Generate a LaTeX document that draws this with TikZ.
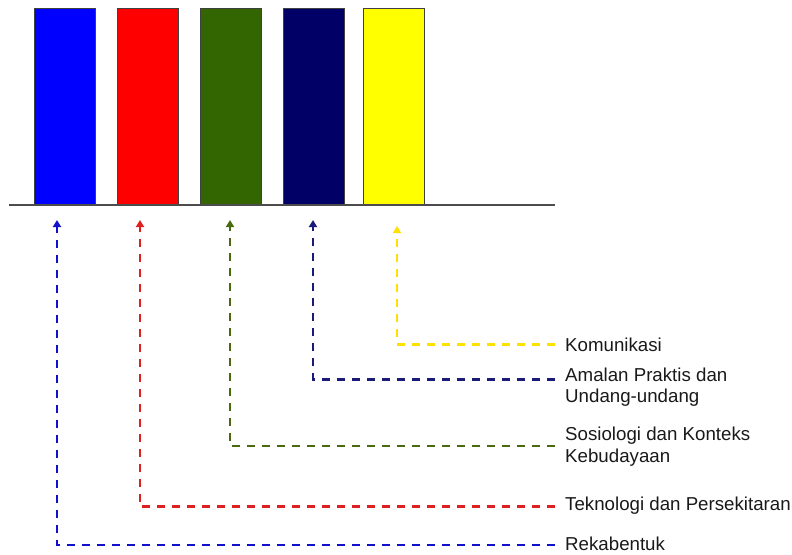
\documentclass[tikz,border=0pt]{standalone}
\usepackage{fontspec}
\setmainfont{Liberation Sans}
\usetikzlibrary{arrows.meta}
\definecolor{cblue}{HTML}{0000FF}
\definecolor{cred}{HTML}{FF0000}
\definecolor{cgreen}{HTML}{336600}
\definecolor{cnavy}{HTML}{000066}
\definecolor{cyellow}{HTML}{FFFF00}
\definecolor{lblue}{HTML}{1111CC}
\definecolor{lred}{HTML}{DD2020}
\definecolor{lgreen}{HTML}{4A6A12}
\definecolor{lnavy}{HTML}{1A1A77}
\definecolor{lyellow}{HTML}{FFE000}
\tikzset{
  bar/.style={draw=black!75, line width=0.8pt, minimum width=61pt, minimum height=196pt, inner sep=0pt, anchor=south west},
  conn/.style={line width=2.4pt, dash pattern=on 8pt off 7pt, -{Triangle[width=8pt,length=7pt]}},
  lab/.style={anchor=base west, inner sep=0pt, font=\fontsize{18.7}{22}\selectfont, text=black!90, align=left}
}
\begin{document}
\begin{tikzpicture}[x=1pt,y=-1pt]
\useasboundingbox (0,0) rectangle (792,554);
% bars
\node[bar, fill=cblue] (b1) at (34,205) {};
\node[bar, fill=cred] (b2) at (117,205) {};
\node[bar, fill=cgreen] (b3) at (200,205) {};
\node[bar, fill=cnavy] (b4) at (283,205) {};
\node[bar, fill=cyellow] (b5) at (363,205) {};
% baseline
\coordinate (axL) at (9,205);
\coordinate (axR) at (555,205);
\draw[black!70, line width=1.2pt] (axL) -- (axR);
% arrow tips
\coordinate (t1) at (57,220);
\coordinate (t2) at (140,220);
\coordinate (t3) at (230,220);
\coordinate (t4) at (313,220);
\coordinate (t5) at (397,226);
% line ends
\coordinate (e5) at (555,344.3);
\coordinate (e4) at (555,379.3);
\coordinate (e3) at (555,446);
\coordinate (e2) at (555,506.5);
\coordinate (e1) at (555,545);
% labels
\node[lab] (l5) at (565,351.5) {Komunikasi};
\node[lab] (l4a) at (565,381) {Amalan Praktis dan};
\node[lab] (l4b) at (565,402.5) {Undang-undang};
\node[lab] (l3a) at (565,440.5) {Sosiologi dan Konteks};
\node[lab] (l3b) at (565,462) {Kebudayaan};
\node[lab] (l2) at (565,510) {Teknologi dan Persekitaran};
\node[lab] (l1) at (565,550) {Rekabentuk};
% connectors
\draw[conn, lyellow] (e5) -| (t5);
\draw[conn, lnavy] (e4) -| (t4);
\draw[conn, lgreen] (e3) -| (t3);
\draw[conn, lred] (e2) -| (t2);
\draw[conn, lblue] (e1) -| (t1);
\end{tikzpicture}
\end{document}
